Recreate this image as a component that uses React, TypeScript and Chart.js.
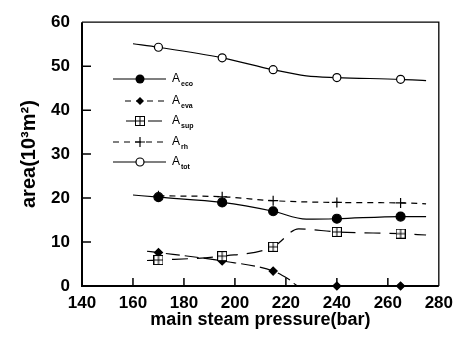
import React, { useEffect, useRef } from 'react';
import { Chart, registerables } from 'chart.js';
Chart.register(...registerables);

const xTickValues = [140, 160, 180, 200, 220, 240, 260, 280];
const yTickValues = [0, 10, 20, 30, 40, 50, 60];

const xTitle = 'main steam pressure(bar)';
const yTitle = 'area(10³m²)';

// A_tot (open circles)
const totX = [160, 170, 195, 215, 228, 240, 265, 275];
const totY = [55.1, 54.3, 51.9, 49.2, 47.8, 47.4, 47.0, 46.7];
const totMark = [0, 1, 1, 1, 0, 1, 1, 0];

// A_eco (filled circles)
const ecoX = [160, 170, 195, 215, 228, 240, 265, 275];
const ecoY = [20.7, 20.2, 19.0, 17.0, 15.2, 15.3, 15.8, 15.8];
const ecoMark = [0, 1, 1, 1, 0, 1, 1, 0];

// A_rh (plus)
const rhX = [170, 195, 215, 240, 265, 275];
const rhY = [20.5, 20.3, 19.4, 19.0, 18.9, 18.7];
const rhMark = [1, 1, 1, 1, 1, 0];

// A_sup (boxed plus)
const supX = [165.5, 170, 195, 215, 225, 240, 265, 275];
const supY = [5.8, 5.9, 6.8, 8.9, 13.0, 12.3, 11.9, 11.6];
const supMark = [0, 1, 1, 1, 0, 1, 1, 0];

// A_eva (filled diamonds)
const evaX = [165.5, 170, 195, 215, 221, 225, 240, 265];
const evaY = [7.9, 7.6, 5.7, 3.4, 1.6, 0, 0, 0];
const evaMark = [0, 1, 1, 1, 0, 0, 1, 1];

const legendSubs = ['eco', 'eva', 'sup', 'rh', 'tot'];

const FONT = '"Liberation Sans", Arial, sans-serif';

function makeSupMarker(): HTMLCanvasElement {
  const c = document.createElement('canvas');
  c.width = 10;
  c.height = 10;
  const g = c.getContext('2d')!;
  g.fillStyle = '#fff';
  g.fillRect(0.5, 0.5, 9, 9);
  g.strokeStyle = '#000';
  g.lineWidth = 1;
  g.strokeRect(0.5, 0.5, 9, 9);
  g.beginPath();
  g.moveTo(5, 0.5);
  g.lineTo(5, 9.5);
  g.moveTo(0.5, 5);
  g.lineTo(9.5, 5);
  g.stroke();
  return c;
}

function pts(xs: number[], ys: number[]) {
  return xs.map((x, i) => ({ x, y: ys[i] }));
}

function drawMarker(ctx: CanvasRenderingContext2D, kind: string, x: number, y: number, sup: HTMLCanvasElement) {
  ctx.save();
  ctx.setLineDash([]);
  ctx.lineWidth = 1.2;
  ctx.strokeStyle = '#000';
  ctx.fillStyle = '#000';
  if (kind === 'eco') {
    ctx.beginPath();
    ctx.arc(x, y, 4.5, 0, Math.PI * 2);
    ctx.fill();
  } else if (kind === 'eva') {
    ctx.beginPath();
    ctx.moveTo(x, y - 4);
    ctx.lineTo(x + 4, y);
    ctx.lineTo(x, y + 4);
    ctx.lineTo(x - 4, y);
    ctx.closePath();
    ctx.fill();
  } else if (kind === 'sup') {
    ctx.drawImage(sup, x - 5, y - 5);
  } else if (kind === 'rh') {
    ctx.beginPath();
    ctx.moveTo(x - 5, y);
    ctx.lineTo(x + 5, y);
    ctx.moveTo(x, y - 5);
    ctx.lineTo(x, y + 5);
    ctx.stroke();
  } else {
    ctx.fillStyle = '#fff';
    ctx.beginPath();
    ctx.arc(x, y, 4, 0, Math.PI * 2);
    ctx.fill();
    ctx.stroke();
  }
  ctx.restore();
}

export default function App() {
  const ref = useRef<HTMLCanvasElement>(null);
  useEffect(() => {
    const supImg = makeSupMarker();
    const dashes: Record<string, number[]> = {
      eco: [],
      eva: [14, 5],
      sup: [16, 9],
      rh: [6, 5],
      tot: [],
    };
    const styles: Record<string, any> = {
      eco: { pointStyle: 'circle', pointBackgroundColor: '#000', pointBorderColor: '#000', r: 4.5 },
      eva: { pointStyle: 'rectRot', pointBackgroundColor: '#000', pointBorderColor: '#000', r: 4 },
      sup: { pointStyle: supImg, pointBackgroundColor: '#fff', pointBorderColor: '#000', r: 5 },
      rh: { pointStyle: 'cross', pointBackgroundColor: '#000', pointBorderColor: '#000', r: 5 },
      tot: { pointStyle: 'circle', pointBackgroundColor: '#fff', pointBorderColor: '#000', r: 4 },
    };
    const mk = (key: string, xs: number[], ys: number[], marks: number[]) => ({
      label: 'A_' + key,
      data: pts(xs, ys),
      borderColor: '#000',
      borderWidth: 1.2,
      borderDash: dashes[key],
      fill: false,
      cubicInterpolationMode: 'monotone' as const,
      pointStyle: styles[key].pointStyle,
      pointBackgroundColor: styles[key].pointBackgroundColor,
      pointBorderColor: styles[key].pointBorderColor,
      pointBorderWidth: 1.2,
      pointRadius: marks.map((m) => (m ? styles[key].r : 0)),
      pointHoverRadius: 0,
      clip: false as any,
    });

    const frame = {
      id: 'frame',
      afterDatasetsDraw(chart: any) {
        const { ctx, chartArea: a, scales } = chart;
        ctx.save();
        ctx.strokeStyle = '#000';
        ctx.setLineDash([]);
        ctx.lineWidth = 2;
        ctx.beginPath();
        ctx.moveTo(a.left, a.top);
        ctx.lineTo(a.left, a.bottom);
        ctx.lineTo(a.right, a.bottom);
        ctx.stroke();
        ctx.lineWidth = 1.3;
        ctx.beginPath();
        ctx.moveTo(a.left, a.top);
        ctx.lineTo(a.right, a.top);
        ctx.lineTo(a.right, a.bottom);
        ctx.stroke();
        ctx.lineWidth = 1.5;
        ctx.beginPath();
        for (const v of yTickValues) {
          if (v === yTickValues[0] || v === yTickValues[yTickValues.length - 1]) continue;
          const y = scales.y.getPixelForValue(v);
          ctx.moveTo(a.left, y);
          ctx.lineTo(a.left + 9, y);
        }
        for (const v of xTickValues) {
          if (v === xTickValues[0] || v === xTickValues[xTickValues.length - 1]) continue;
          const x = scales.x.getPixelForValue(v);
          ctx.moveTo(x, a.bottom);
          ctx.lineTo(x, a.bottom - 8);
        }
        ctx.stroke();

        // legend
        const rowsY = [79, 101, 121, 142, 162];
        const lineStart: Record<string, number> = { eco: 113, eva: 125, sup: 126, rh: 113, tot: 113 };
        legendSubs.forEach((k, i) => {
          const y = rowsY[i];
          ctx.save();
          ctx.lineWidth = 1.2;
          ctx.setLineDash(k === 'rh' ? [6, 5] : k === 'eva' ? [6, 5] : k === 'sup' ? [14, 8] : []);
          ctx.beginPath();
          ctx.moveTo(lineStart[k], y);
          ctx.lineTo(166, y);
          ctx.stroke();
          ctx.restore();
          drawMarker(ctx, k, 140, y, supImg);
          ctx.fillStyle = '#000';
          ctx.textBaseline = 'alphabetic';
          ctx.textAlign = 'left';
          ctx.font = `12px ${FONT}`;
          ctx.fillText('A', 172, y + 3);
          ctx.font = `bold 7px ${FONT}`;
          ctx.fillText(k, 181, y + 7);
        });
        ctx.restore();
      },
    };

    const tickFont = { family: FONT, size: 17, weight: 'bold' as const };
    const chart = new Chart(ref.current!, {
      type: 'line',
      data: {
        datasets: [
          mk('tot', totX, totY, totMark),
          mk('rh', rhX, rhY, rhMark),
          mk('eco', ecoX, ecoY, ecoMark),
          mk('sup', supX, supY, supMark),
          mk('eva', evaX, evaY, evaMark),
        ],
      },
      options: {
        animation: false,
        responsive: false,
        maintainAspectRatio: false,
        layout: { padding: { top: 19, right: 20, left: 0, bottom: 0 } },
        plugins: { legend: { display: false }, tooltip: { enabled: false } },
        scales: {
          x: {
            type: 'linear',
            min: 140,
            max: 280,
            afterBuildTicks: (s: any) => {
              s.ticks = xTickValues.map((v) => ({ value: v }));
            },
            grid: { display: false, drawTicks: false },
            border: { display: false },
            ticks: { padding: 7, font: tickFont, color: '#000', maxRotation: 0, autoSkip: false },
            title: { display: true, text: xTitle, color: '#000', font: { family: FONT, size: 18, weight: 'bold' }, padding: { top: 0, bottom: 10 } },
            afterFit: (s: any) => {
              s.height = 55;
            },
          },
          y: {
            type: 'linear',
            min: 0,
            max: 60,
            afterBuildTicks: (s: any) => {
              s.ticks = yTickValues.map((v) => ({ value: v }));
            },
            grid: { display: false, drawTicks: false },
            border: { display: false },
            ticks: { padding: 12, font: tickFont, color: '#000', autoSkip: false },
            title: { display: true, text: yTitle, color: '#000', font: { family: FONT, size: 20, weight: 'bold' }, padding: { top: 17, bottom: 0 } },
            afterFit: (s: any) => {
              s.width = 82;
            },
          },
        },
      },
      plugins: [frame],
    });
    return () => chart.destroy();
  }, []);
  return (
    <div style={{ position: 'absolute', left: 0, top: 0, width: 460, height: 341, background: '#fff' }}>
      <canvas ref={ref} width={460} height={341} style={{ width: 460, height: 341, display: 'block' }} />
    </div>
  );
}
